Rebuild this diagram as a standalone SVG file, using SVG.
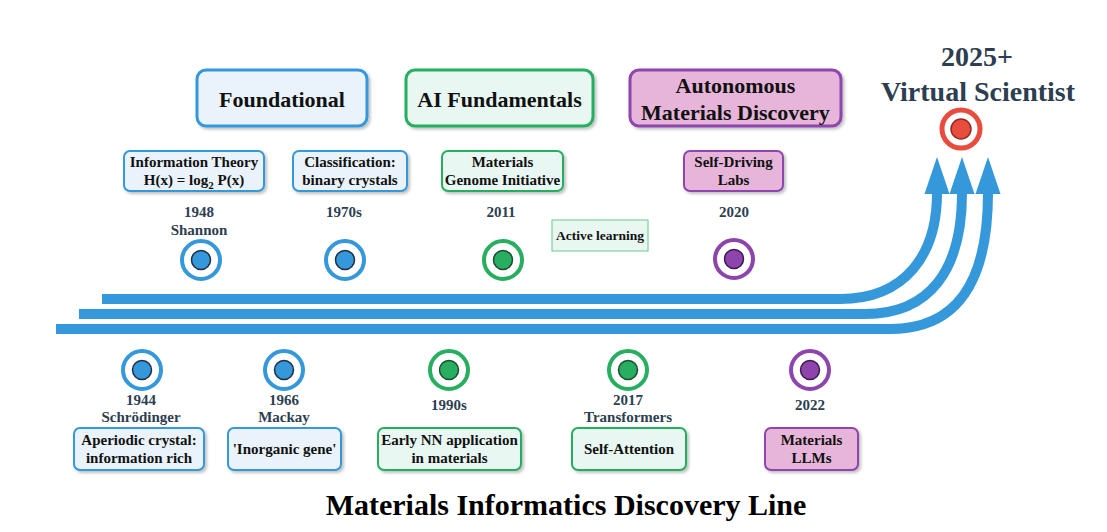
<svg xmlns="http://www.w3.org/2000/svg" width="1107" height="532" viewBox="0 0 1107 532">
<style>
text{font-family:"Liberation Serif","Times New Roman",serif;font-weight:bold;text-anchor:middle}
.hdr{font-size:22px;fill:#111}
.sm{font-size:15px;fill:#111}
.yr{font-size:15px;fill:#2c3e50}
.bB{fill:#eaf3fb;stroke:#3498db}
.bG{fill:#e8f7f2;stroke:#27ae60}
.bP{fill:#e6b5d9;stroke:#8e44ad}
.big{stroke-width:3}
.small{stroke-width:2}
.ring{fill:#fff;stroke-width:4}
.rB{stroke:#3498db}.rG{stroke:#27ae60}.rP{stroke:#8e44ad}
.dB{fill:#3498db;stroke:#1f2f45;stroke-width:1.5}
.dG{fill:#27ae60;stroke:#1d4d33;stroke-width:1.5}
.dP{fill:#8e44ad;stroke:#3d1a4d;stroke-width:1.5}
.flow{fill:none;stroke:#3498db;stroke-width:10}
.head{fill:#3498db}
</style>
<defs>
<filter id="sh" x="-10%" y="-10%" width="130%" height="140%">
<feDropShadow dx="2" dy="2" stdDeviation="1.5" flood-color="#000" flood-opacity="0.25"/>
</filter>
</defs>
<rect width="1107" height="532" fill="#fff"/>

<g id="connectors">
<path class="flow" d="M102,299 H840 C905,299 937,255 937,193"/>
<path class="flow" d="M79,314 H865 C930,314 962,270 962,193"/>
<path class="flow" d="M56,329 H890 C955,329 988,285 988,193"/>
<polygon class="head" points="937,157 924.5,194 949.5,194"/>
<polygon class="head" points="962,157 949.5,194 974.5,194"/>
<polygon class="head" points="988,157 975.5,194 1000.5,194"/>
</g>

<g id="hdr-foundational">
<rect class="bB big" x="197" y="70" width="170" height="56" rx="9" filter="url(#sh)"/>
<text class="hdr" x="282" y="107">Foundational</text>
</g>
<g id="hdr-ai">
<rect class="bG big" x="406" y="70" width="187" height="56" rx="9" filter="url(#sh)"/>
<text class="hdr" x="499.5" y="107">AI Fundamentals</text>
</g>
<g id="hdr-autonomous">
<rect class="bP big" x="630" y="70" width="211" height="56" rx="9" filter="url(#sh)"/>
<text class="hdr" x="735.5" y="93">Autonomous</text>
<text class="hdr" x="735.5" y="120">Materials Discovery</text>
</g>

<g id="goal">
<text x="977" y="66" style="font-size:28px;fill:#2c3e50">2025+</text>
<text x="978" y="101" style="font-size:28px;fill:#2c3e50">Virtual Scientist</text>
<circle cx="961" cy="129" r="19" fill="#fff" stroke="#e74c3c" stroke-width="5"/>
<circle cx="961" cy="129" r="10" fill="#e74c3c" stroke="#922b21" stroke-width="1.5"/>
</g>

<g id="m1948">
<rect class="bB small" x="124" y="151" width="140" height="40" rx="6" filter="url(#sh)"/>
<text class="sm" x="194" y="167">Information Theory</text>
<text class="sm" x="194" y="185">H(x) = log<tspan font-size="11" dy="4">2</tspan><tspan dy="-4"> P(x)</tspan></text>
<text class="yr" x="199" y="217">1948</text>
<text class="yr" x="199" y="235">Shannon</text>
<circle class="ring rB" cx="201" cy="260" r="19"/>
<circle class="dB" cx="201" cy="260" r="9.5"/>
</g>

<g id="m1970s">
<rect class="bB small" x="293" y="151" width="114" height="40" rx="6" filter="url(#sh)"/>
<text class="sm" x="350" y="167">Classification:</text>
<text class="sm" x="350" y="185">binary crystals</text>
<text class="yr" x="344" y="217">1970s</text>
<circle class="ring rB" cx="345" cy="260" r="19"/>
<circle class="dB" cx="345" cy="260" r="9.5"/>
</g>

<g id="m2011">
<rect class="bG small" x="442" y="151" width="121" height="40" rx="6" filter="url(#sh)"/>
<text class="sm" x="502.5" y="167">Materials</text>
<text class="sm" x="502.5" y="185">Genome Initiative</text>
<text class="yr" x="501" y="217">2011</text>
<circle class="ring rG" cx="503" cy="260" r="19"/>
<circle class="dG" cx="503" cy="260" r="9.5"/>
</g>

<g id="active-learning">
<rect x="552" y="220" width="96" height="31" fill="#e8f7f0" stroke="#82cfa5" stroke-width="1.2"/>
<text x="600" y="240" style="font-size:13.5px;fill:#111">Active learning</text>
</g>

<g id="m2020">
<rect class="bP small" x="684" y="151" width="99" height="40" rx="6" filter="url(#sh)"/>
<text class="sm" x="733.5" y="167">Self-Driving</text>
<text class="sm" x="733.5" y="185">Labs</text>
<text class="yr" x="734" y="217">2020</text>
<circle class="ring rP" cx="734" cy="259" r="19"/>
<circle class="dP" cx="734" cy="259" r="9.5"/>
</g>

<g id="m1944">
<circle class="ring rB" cx="142" cy="370" r="19"/>
<circle class="dB" cx="142" cy="370" r="9.5"/>
<text class="yr" x="141" y="405">1944</text>
<text class="yr" x="141" y="422">Schrödinger</text>
<rect class="bB small" x="74" y="428" width="130" height="42" rx="6" filter="url(#sh)"/>
<text class="sm" x="139" y="445">Aperiodic crystal:</text>
<text class="sm" x="139" y="463">information rich</text>
</g>

<g id="m1966">
<circle class="ring rB" cx="284" cy="370" r="19"/>
<circle class="dB" cx="284" cy="370" r="9.5"/>
<text class="yr" x="284" y="405">1966</text>
<text class="yr" x="284" y="422">Mackay</text>
<rect class="bB small" x="228" y="428" width="113" height="42" rx="6" filter="url(#sh)"/>
<text class="sm" x="284.5" y="454">'Inorganic gene'</text>
</g>

<g id="m1990s">
<circle class="ring rG" cx="449" cy="370" r="19"/>
<circle class="dG" cx="449" cy="370" r="9.5"/>
<text class="yr" x="449" y="410">1990s</text>
<rect class="bG small" x="378" y="428" width="143" height="42" rx="6" filter="url(#sh)"/>
<text class="sm" x="449.5" y="445">Early NN application</text>
<text class="sm" x="449.5" y="463">in materials</text>
</g>

<g id="m2017">
<circle class="ring rG" cx="628" cy="370" r="19"/>
<circle class="dG" cx="628" cy="370" r="9.5"/>
<text class="yr" x="628" y="405">2017</text>
<text class="yr" x="628" y="422">Transformers</text>
<rect class="bG small" x="572" y="428" width="114" height="42" rx="6" filter="url(#sh)"/>
<text class="sm" x="629" y="454">Self-Attention</text>
</g>

<g id="m2022">
<circle class="ring rP" cx="810" cy="370" r="19"/>
<circle class="dP" cx="810" cy="370" r="9.5"/>
<text class="yr" x="810" y="410">2022</text>
<rect class="bP small" x="765" y="428" width="93" height="42" rx="6" filter="url(#sh)"/>
<text class="sm" x="811.5" y="445">Materials</text>
<text class="sm" x="811.5" y="463">LLMs</text>
</g>

<g id="title">
<text x="566" y="515" style="font-size:30px;fill:#000">Materials Informatics Discovery Line</text>
</g>
</svg>
